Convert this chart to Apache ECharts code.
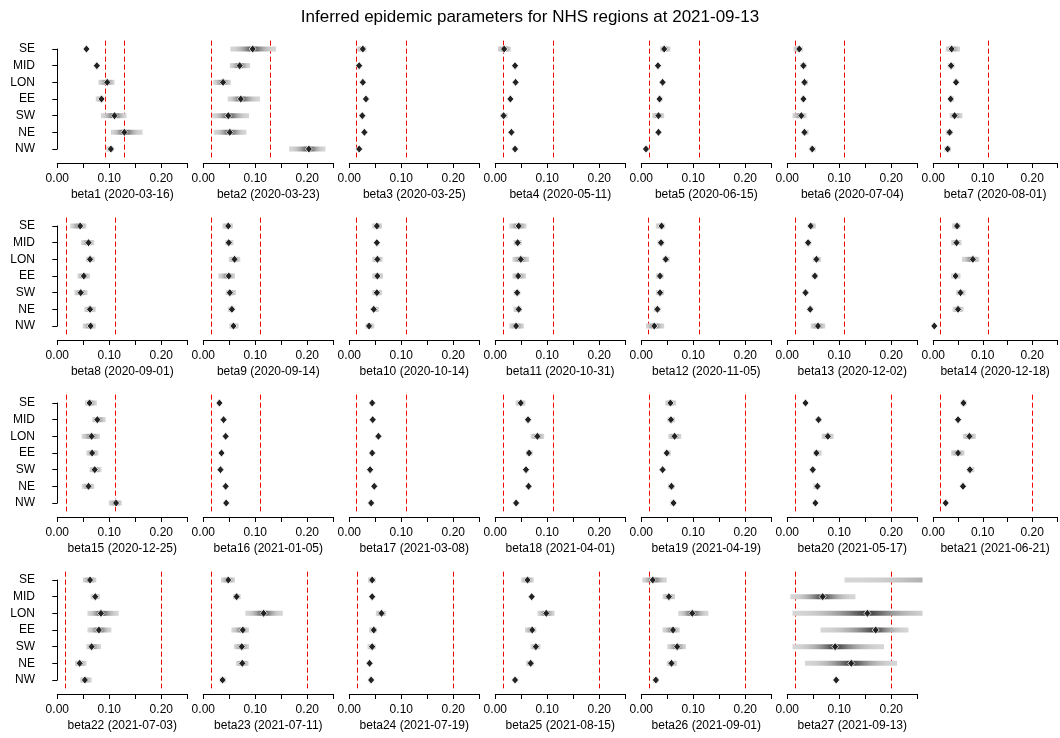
<!DOCTYPE html>
<html>
<head>
<meta charset="utf-8">
<script src="https://cdn.jsdelivr.net/npm/echarts@6/dist/echarts.min.js"></script>
<style>
html,body{margin:0;padding:0;background:#fff;}
#chart{width:1060px;height:738px;}
</style>
</head>
<body>
<div id="chart"></div>
<script>
// ---------------- data ----------------
const regions = ['SE', 'MID', 'LON', 'EE', 'SW', 'NE', 'NW'];
const panelLabels = [
  'beta1 (2020-03-16)', 'beta2 (2020-03-23)', 'beta3 (2020-03-25)', 'beta4 (2020-05-11)',
  'beta5 (2020-06-15)', 'beta6 (2020-07-04)', 'beta7 (2020-08-01)', 'beta8 (2020-09-01)',
  'beta9 (2020-09-14)', 'beta10 (2020-10-14)', 'beta11 (2020-10-31)', 'beta12 (2020-11-05)',
  'beta13 (2020-12-02)', 'beta14 (2020-12-18)', 'beta15 (2020-12-25)', 'beta16 (2021-01-05)',
  'beta17 (2021-03-08)', 'beta18 (2021-04-01)', 'beta19 (2021-04-19)', 'beta20 (2021-05-17)',
  'beta21 (2021-06-21)', 'beta22 (2021-07-03)', 'beta23 (2021-07-11)', 'beta24 (2021-07-19)',
  'beta25 (2021-08-15)', 'beta26 (2021-09-01)', 'beta27 (2021-09-13)'
];
const xTickLabels = ['0.00', '0.10', '0.20'];
const mainTitle = 'Inferred epidemic parameters for NHS regions at 2021-09-13';

// medians per panel, order SE, MID, LON, EE, SW, NE, NW
const medians = [
  [0.056,0.076,0.096,0.085,0.110,0.129,0.103],
  [0.095,0.070,0.038,0.072,0.048,0.051,0.203],
  [0.026,0.019,0.026,0.032,0.025,0.029,0.019],
  [0.017,0.038,0.039,0.029,0.016,0.031,0.038],
  [0.044,0.032,0.041,0.035,0.033,0.033,0.009],
  [0.023,0.031,0.033,0.031,0.027,0.033,0.048],
  [0.037,0.036,0.046,0.035,0.043,0.033,0.029],
  [0.044,0.060,0.063,0.051,0.045,0.063,0.064],
  [0.048,0.049,0.060,0.049,0.051,0.055,0.058],
  [0.053,0.053,0.054,0.054,0.053,0.047,0.038],
  [0.045,0.043,0.049,0.044,0.042,0.045,0.040],
  [0.039,0.038,0.047,0.036,0.036,0.031,0.025],
  [0.045,0.040,0.056,0.053,0.035,0.044,0.059],
  [0.048,0.047,0.080,0.045,0.055,0.050,0.002],
  [0.062,0.077,0.066,0.067,0.072,0.060,0.113],
  [0.031,0.039,0.043,0.035,0.033,0.043,0.044],
  [0.044,0.045,0.056,0.044,0.040,0.048,0.042],
  [0.049,0.063,0.081,0.065,0.059,0.064,0.040],
  [0.056,0.057,0.064,0.049,0.041,0.058,0.062],
  [0.035,0.060,0.078,0.056,0.049,0.058,0.054],
  [0.061,0.050,0.073,0.050,0.074,0.060,0.025],
  [0.063,0.073,0.084,0.080,0.066,0.043,0.053],
  [0.048,0.064,0.116,0.076,0.074,0.075,0.037],
  [0.044,0.044,0.062,0.047,0.044,0.039,0.042],
  [0.062,0.070,0.098,0.071,0.078,0.068,0.038],
  [0.022,0.053,0.098,0.061,0.069,0.058,0.028],
  [0.400,0.068,0.154,0.170,0.092,0.123,0.094]
];
const lower = [
  [0.055,0.075,0.079,0.074,0.084,0.103,0.094],
  [0.052,0.051,0.019,0.047,0.017,0.020,0.165],
  [0.015,0.018,0.025,0.031,0.020,0.028,0.017],
  [0.005,0.037,0.038,0.028,0.010,0.030,0.037],
  [0.036,0.031,0.040,0.033,0.021,0.032,0.008],
  [0.012,0.025,0.028,0.029,0.010,0.029,0.045],
  [0.025,0.029,0.041,0.030,0.033,0.025,0.022],
  [0.025,0.046,0.055,0.039,0.033,0.052,0.049],
  [0.037,0.042,0.049,0.029,0.043,0.047,0.050],
  [0.044,0.050,0.044,0.044,0.044,0.044,0.031],
  [0.027,0.035,0.033,0.033,0.035,0.035,0.027],
  [0.028,0.031,0.041,0.028,0.028,0.024,0.009],
  [0.039,0.035,0.049,0.047,0.030,0.039,0.045],
  [0.038,0.036,0.058,0.036,0.046,0.039,0.002],
  [0.053,0.067,0.047,0.056,0.062,0.047,0.099],
  [0.031,0.039,0.043,0.035,0.033,0.043,0.044],
  [0.044,0.045,0.052,0.044,0.040,0.048,0.042],
  [0.039,0.058,0.068,0.059,0.056,0.061,0.040],
  [0.046,0.050,0.052,0.044,0.038,0.051,0.055],
  [0.035,0.055,0.066,0.050,0.045,0.050,0.054],
  [0.055,0.050,0.060,0.036,0.068,0.060,0.025],
  [0.049,0.064,0.058,0.058,0.056,0.034,0.044],
  [0.034,0.057,0.081,0.054,0.059,0.063,0.031],
  [0.036,0.041,0.051,0.038,0.035,0.036,0.039],
  [0.050,0.067,0.081,0.057,0.068,0.059,0.038],
  [0.002,0.041,0.071,0.041,0.050,0.049,0.022],
  [0.110,0.006,0.010,0.064,0.010,0.034,0.094]
];
const upper = [
  [0.057,0.077,0.110,0.090,0.133,0.164,0.108],
  [0.140,0.090,0.053,0.109,0.088,0.083,0.235],
  [0.033,0.020,0.027,0.033,0.029,0.030,0.022],
  [0.030,0.039,0.040,0.030,0.024,0.032,0.039],
  [0.056,0.033,0.042,0.041,0.044,0.034,0.010],
  [0.030,0.037,0.040,0.034,0.037,0.041,0.055],
  [0.054,0.043,0.051,0.042,0.059,0.039,0.036],
  [0.056,0.071,0.072,0.063,0.058,0.074,0.074],
  [0.057,0.058,0.071,0.061,0.063,0.060,0.068],
  [0.063,0.056,0.064,0.065,0.063,0.057,0.048],
  [0.060,0.051,0.065,0.059,0.048,0.051,0.055],
  [0.046,0.044,0.055,0.043,0.044,0.037,0.044],
  [0.055,0.046,0.065,0.058,0.039,0.049,0.073],
  [0.055,0.057,0.093,0.055,0.065,0.061,0.002],
  [0.076,0.093,0.082,0.079,0.085,0.071,0.124],
  [0.031,0.039,0.043,0.035,0.033,0.043,0.044],
  [0.044,0.045,0.058,0.044,0.040,0.048,0.042],
  [0.058,0.068,0.094,0.072,0.062,0.067,0.040],
  [0.067,0.065,0.077,0.057,0.045,0.064,0.066],
  [0.035,0.065,0.089,0.066,0.053,0.063,0.054],
  [0.068,0.050,0.086,0.063,0.083,0.060,0.025],
  [0.075,0.082,0.118,0.104,0.084,0.056,0.066],
  [0.061,0.072,0.153,0.088,0.088,0.087,0.044],
  [0.051,0.047,0.071,0.053,0.051,0.042,0.045],
  [0.074,0.073,0.114,0.079,0.087,0.074,0.038],
  [0.049,0.065,0.129,0.074,0.086,0.069,0.033],
  [0.600,0.131,0.290,0.233,0.186,0.211,0.094]
];
// reference (dashed) lines per panel
const refLow  = [0.092,0.015,0.0135,0.0145,0.0145,0.0145,0.0145,0.016,0.015,0.0135,0.015,0.0135,0.0145,0.0145,
                 0.016,0.015,0.0135,0.015,0.014,0.0145,0.0145,0.014,0.014,0.014,0.014,0.014,0.014];
const refHigh = [0.129,0.128,0.109,0.111,0.111,0.109,0.110,0.110,0.109,0.109,0.111,0.111,0.109,0.110,
                 0.110,0.109,0.109,0.111,0.199,0.199,0.199,0.199,0.199,0.199,0.199,0.199,0.199];

// ---------------- layout ----------------
const FONT = '"Liberation Sans", Arial, Helvetica, sans-serif';
const NCOL = 7;
const X0 = 57.3, DX = 146, Y0 = 49, DY = 177, GW = 130, GH = 100;
const CLIP_LO = -0.01, CLIP_HI = 0.26;

function mix(a, b, t) {
  const pa = [parseInt(a.slice(1,3),16), parseInt(a.slice(3,5),16), parseInt(a.slice(5,7),16)];
  const pb = [parseInt(b.slice(1,3),16), parseInt(b.slice(3,5),16), parseInt(b.slice(5,7),16)];
  const c = pa.map((v,i) => Math.round(v + (pb[i]-v)*t));
  return 'rgb(' + c.join(',') + ')';
}
const LIGHT = '#d6d6d6', DARK = '#353535';
function shade(t) { // t: 0 at interval end, 1 at median
  const s = Math.pow(t, 2.2);
  return mix(LIGHT, DARK, s);
}

function barRender(params, api) {
  const idx = api.value(0), lo = api.value(1), hi = api.value(2), med = api.value(3);
  const pLo = api.coord([lo, idx]), pHi = api.coord([hi, idx]), pMed = api.coord([med, idx]);
  const xmin = api.coord([CLIP_LO, idx])[0], xmax = api.coord([CLIP_HI, idx])[0];
  const x1 = Math.max(pLo[0], xmin), x2 = Math.min(pHi[0], xmax);
  const span = pHi[0] - pLo[0];
  if (span < 1 || x2 - x1 < 0.5) return null;
  const f = Math.min(Math.max((pMed[0] - pLo[0]) / span, 0.001), 0.999);
  const stops = [];
  const N = 8;
  for (let i = 0; i <= N; i++) {
    const t = i / N;
    stops.push({offset: f * t, color: shade(t)});
  }
  for (let i = N - 1; i >= 0; i--) {
    const t = i / N;
    stops.push({offset: f + (1 - f) * (1 - t), color: shade(t)});
  }
  const grad = new echarts.graphic.LinearGradient(pLo[0], 0, pHi[0], 0, stops, true);
  return {
    type: 'rect',
    shape: {x: x1, y: pLo[1] - 2.5, width: x2 - x1, height: 5},
    style: {fill: grad}
  };
}

function lineRender(params, api) {
  const v = api.value(0);
  const p1 = api.coord([v, -0.5]), p2 = api.coord([v, 6.5]);
  return {
    type: 'line',
    shape: {x1: Math.round(p1[0]) + 0.5, y1: p1[1], x2: Math.round(p2[0]) + 0.5, y2: p2[1]},
    style: {stroke: '#ee0000', lineWidth: 1, lineDash: [5, 3]}
  };
}

const grids = [], xAxes = [], yAxes = [], series = [];
for (let p = 0; p < panelLabels.length; p++) {
  const col = p % NCOL, row = Math.floor(p / NCOL);
  grids.push({left: X0 + DX * col, top: Y0 + DY * row, width: GW, height: GH});
  xAxes.push({
    gridIndex: p, type: 'value', min: 0, max: 0.25, interval: 0.05, offset: 14,
    axisLine: {show: true, onZero: false, lineStyle: {color: '#000', width: 1}},
    axisTick: {show: true, length: 5, lineStyle: {color: '#000', width: 1}},
    splitLine: {show: false},
    axisLabel: {
      show: true, margin: 10, color: '#000', fontFamily: FONT, fontSize: 12,
      formatter: function (v) {
        const s = v.toFixed(2);
        return xTickLabels.indexOf(s) >= 0 ? s : '';
      }
    },
    name: panelLabels[p], nameLocation: 'middle', nameGap: 26,
    nameTextStyle: {color: '#000', fontFamily: FONT, fontSize: 12}
  });
  const showY = col === 0;
  yAxes.push({
    gridIndex: p, type: 'value', min: 0, max: 6, interval: 1, inverse: true, offset: 14.3,
    show: showY,
    axisLine: {show: showY, lineStyle: {color: '#000', width: 1}},
    axisTick: {show: showY, length: 5, lineStyle: {color: '#000', width: 1}},
    splitLine: {show: false},
    axisLabel: {
      show: showY, margin: 8, color: '#000', fontFamily: FONT, fontSize: 12,
      formatter: function (v) { return regions[Math.round(v)] || ''; }
    }
  });
  series.push({
    type: 'custom', xAxisIndex: p, yAxisIndex: p, z: 1, silent: true,
    data: [[refLow[p], 0], [refHigh[p], 0]],
    encode: {x: 0, y: 1},
    renderItem: lineRender
  });
  series.push({
    type: 'custom', xAxisIndex: p, yAxisIndex: p, z: 2, silent: true,
    data: regions.map((r, i) => [i, lower[p][i], upper[p][i], medians[p][i]]),
    encode: {x: [1, 2, 3], y: 0},
    renderItem: barRender
  });
  series.push({
    type: 'scatter', xAxisIndex: p, yAxisIndex: p, z: 3, silent: true, clip: true,
    symbol: 'diamond', symbolSize: [7, 8],
    itemStyle: {color: '#222', borderColor: '#fff', borderWidth: 0.8, opacity: 1},
    data: regions.map((r, i) => [medians[p][i], i])
  });
}

const chart = echarts.init(document.getElementById('chart'), null, {renderer: 'canvas'});
chart.setOption({
  animation: false,
  backgroundColor: '#fff',
  title: {
    text: mainTitle, left: 'center', top: 4,
    textStyle: {color: '#000', fontFamily: FONT, fontSize: 17, fontWeight: 'normal'}
  },
  grid: grids,
  xAxis: xAxes,
  yAxis: yAxes,
  series: series
});
</script>
</body>
</html>
